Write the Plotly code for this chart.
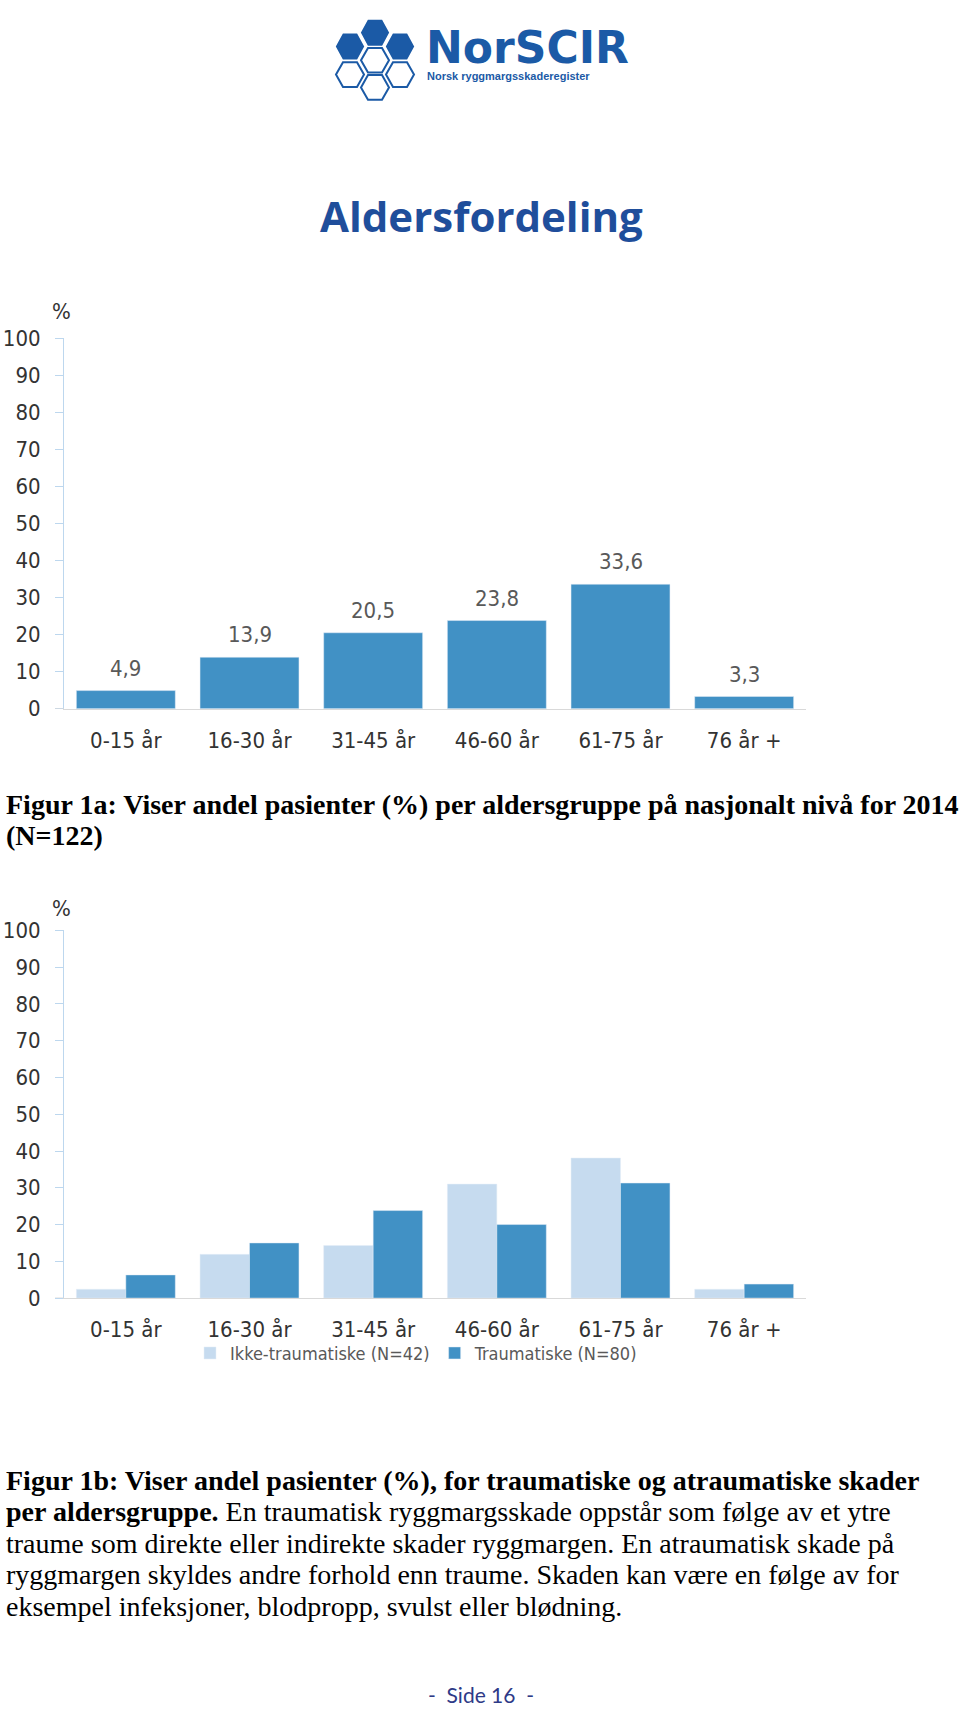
import plotly.graph_objects as go

W, H = 960, 1723

# ---------------- data ----------------
categories = ["0-15 år", "16-30 år", "31-45 år", "46-60 år", "61-75 år", "76 år +"]
total_pct = [4.9, 13.9, 20.5, 23.8, 33.6, 3.3]
ikke_traumatiske = [2.4, 11.9, 14.3, 31.0, 38.1, 2.4]
traumatiske = [6.3, 15.0, 23.8, 20.0, 31.3, 3.8]
y_ticks = [0, 10, 20, 30, 40, 50, 60, 70, 80, 90, 100]
legend_names = ["Ikke-traumatiske (N=42)", "Traumatiske (N=80)"]

caption_1a = [
    "<b>Figur 1a: Viser andel pasienter (%) per aldersgruppe på nasjonalt nivå for 2014</b>",
    "<b>(N=122)</b>",
]
caption_1b = [
    "<b>Figur 1b: Viser andel pasienter (%), for traumatiske og atraumatiske skader</b>",
    "<b>per aldersgruppe.</b> En traumatisk ryggmargsskade oppstår som følge av et ytre",
    "traume som direkte eller indirekte skader ryggmargen. En atraumatisk skade på",
    "ryggmargen skyldes andre forhold enn traume. Skaden kan være en følge av for",
    "eksempel infeksjoner, blodpropp, svulst eller blødning.",
]

# ---------------- styles ----------------
DARK = "#4191C5"
LIGHT = "#C6DBEF"
TICKFONT = "DejaVu Sans Condensed, Liberation Sans Narrow, sans-serif"
SERIF = "Liberation Serif, Times New Roman, serif"
LOGO_BLUE = "#1B5AA6"
AXIS_BLUE = "#BDD7EE"
AXIS_GREY = "#D9D9D9"


def px(x):
    return x / W


def py(y):
    return 1 - y / H


fig = go.Figure()

fig.add_trace(go.Bar(x=categories, y=total_pct, marker_color=DARK, showlegend=False,
                     xaxis="x", yaxis="y", hoverinfo="skip"))
fig.add_trace(go.Bar(x=categories, y=ikke_traumatiske, marker_color=LIGHT, name=legend_names[0],
                     xaxis="x2", yaxis="y2", hoverinfo="skip"))
fig.add_trace(go.Bar(x=categories, y=traumatiske, marker_color=DARK, name=legend_names[1],
                     xaxis="x2", yaxis="y2", hoverinfo="skip"))

xdom = [px(64), px(806)]
xcommon = dict(type="category", showline=True, linecolor=AXIS_GREY, linewidth=1,
               ticks="", showgrid=False, zeroline=False,
               tickfont=dict(family=TICKFONT, size=22, color="#333333"),
               ticklabelstandoff=12)
ycommon = dict(range=[0, 100], tickvals=y_ticks, showgrid=False, zeroline=False,
               showline=True, linecolor=AXIS_BLUE, linewidth=1,
               ticks="outside", ticklen=8, tickcolor=AXIS_BLUE,
               tickfont=dict(family=TICKFONT, size=22, color="#333333"),
               ticklabelstandoff=10)

annotations = []


def note(x, y, text, size, color, family, xanchor="center", yanchor="middle"):
    annotations.append(dict(x=px(x), y=py(y), xref="paper", yref="paper", text=text,
                            showarrow=False, xanchor=xanchor, yanchor=yanchor,
                            font=dict(family=family, size=size, color=color)))


# data labels chart 1
for c, v in zip(categories, total_pct):
    annotations.append(dict(x=c, y=v, xref="x", yref="y", text=f"{v:.1f}".replace(".", ","),
                            showarrow=False, xanchor="center", yanchor="bottom", yshift=8,
                            font=dict(family=TICKFONT, size=22, color="#595959")))

# % labels
note(61, 304, "%", 22, "#333333", TICKFONT)
note(61, 910, "%", 22, "#333333", TICKFONT)

# title
note(481, 206, "<b>Aldersfordeling</b>", 42, "#1F4E9B", "Open Sans, Lato, sans-serif")

# logo texts
note(424, 36, "<b>NorSCIR</b>", 44, LOGO_BLUE, "DejaVu Sans, sans-serif", xanchor="left")
note(425, 64.5, "<b>Norsk ryggmargsskaderegister</b>", 11, LOGO_BLUE,
     "Liberation Sans, Arial, sans-serif", xanchor="left")

# captions
for i, line in enumerate(caption_1a):
    note(4, 804 + 32 * i, line, 28, "#000000", SERIF, xanchor="left")
for i, line in enumerate(caption_1b):
    note(4, 1490 + 32 * i, line, 28, "#000000", SERIF, xanchor="left")

# footer
note(481, 1707, "-  Side 16  -", 21, "#2E3A87", "Lato, Open Sans, sans-serif")

# logo hexagons
shapes = []


def hexpath(cx, cy, r=15, h=14):
    pts = [(cx - r, cy), (cx - r / 2, cy - h), (cx + r / 2, cy - h),
           (cx + r, cy), (cx + r / 2, cy + h), (cx - r / 2, cy + h)]
    return "M " + " L ".join(f"{px(x):.5f},{py(y):.5f}" for x, y in pts) + " Z"


for cx, cy in [(375, 21), (350, 35), (400, 35)]:
    shapes.append(dict(type="path", xref="paper", yref="paper", path=hexpath(cx, cy),
                       fillcolor=LOGO_BLUE, line=dict(color="white", width=1.5)))
for cx, cy in [(375, 49), (350, 63.5), (400, 63.5), (375, 76.5)]:
    shapes.append(dict(type="path", xref="paper", yref="paper", path=hexpath(cx, cy, 14, 12.5),
                       fillcolor="white", line=dict(color=LOGO_BLUE, width=2)))

# small extension of the category axis line to the left of the value axis
for yref in ("y", "y2"):
    shapes.append(dict(type="line", xref="paper", yref=yref, x0=px(55), x1=px(64), y0=0, y1=0,
                       line=dict(color=AXIS_GREY, width=1)))

fig.update_layout(
    width=W, height=H,
    margin=dict(l=0, r=0, t=0, b=0),
    paper_bgcolor="white", plot_bgcolor="white",
    barmode="group", bargap=0.2, bargroupgap=0,
    xaxis=dict(domain=xdom, anchor="y", **xcommon),
    yaxis=dict(domain=[py(707), py(331)], anchor="x", **ycommon),
    xaxis2=dict(domain=xdom, anchor="y2", **xcommon),
    yaxis2=dict(domain=[py(1305), py(932)], anchor="x2", **ycommon),
    legend=dict(orientation="h", x=px(190), xanchor="left", y=py(1361), yanchor="middle",
                font=dict(family=TICKFONT, size=18, color="#595959"),
                itemwidth=30, bgcolor="rgba(0,0,0,0)"),
    annotations=annotations,
    shapes=shapes,
    showlegend=True,
)

fig.write_html("out.html")
